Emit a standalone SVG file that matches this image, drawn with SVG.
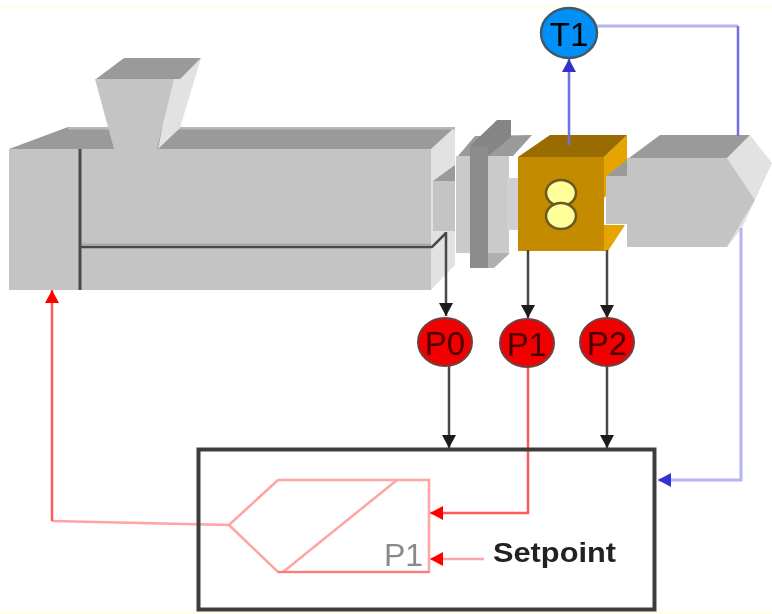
<svg xmlns="http://www.w3.org/2000/svg" width="772" height="614" viewBox="0 0 772 614">
<style>
.f{fill:#c4c4c4}.t{fill:#9a9a9a}.s{fill:#e2e2e2}.d{fill:#8c8c8c}
.k{fill:none;stroke:#4a4a4a;stroke-width:2.5}
.r{fill:none;stroke:#ff5a5a;stroke-width:2.5}
.rl{fill:none;stroke:#ffa4a4;stroke-width:2.5}
.b{fill:none;stroke:#7070e0;stroke-width:2.5}
.bl{fill:none;stroke:#b4b4f0;stroke-width:3}
text{font-family:"Liberation Sans",Arial,sans-serif}
.lab{font-size:33px;fill:#4a0000;text-anchor:middle}
</style>
<defs>
<filter id="soft" x="-2%" y="-2%" width="104%" height="104%"><feGaussianBlur stdDeviation="0.7"/></filter>
<marker id="ak" markerWidth="16" markerHeight="16" refX="13" refY="8" orient="auto" markerUnits="userSpaceOnUse"><path d="M0 1L13 8L0 15Z" fill="#1a1a1a"/></marker>
<marker id="ar" markerWidth="16" markerHeight="16" refX="13" refY="8" orient="auto" markerUnits="userSpaceOnUse"><path d="M0 1L13 8L0 15Z" fill="#ff0000"/></marker>
<marker id="ab" markerWidth="16" markerHeight="16" refX="13" refY="8" orient="auto" markerUnits="userSpaceOnUse"><path d="M0 1L13 8L0 15Z" fill="#3030cc"/></marker>
</defs>
<rect width="772" height="614" fill="#fff"/>
<rect x="0" y="6" width="772" height="2" fill="#ffffe6"/>
<rect x="0" y="611" width="772" height="3" fill="#ffffe6"/>
<g filter="url(#soft)">
<g id="extruder-barrel">
<polygon class="s" points="431,149 455,127 455,265 431,290"/>
<polygon class="t" points="9,149 68,127 455,127 431,149"/>
<rect x="68" y="127" width="387" height="2.500" fill="#b8b8b8"/>
<rect class="f" x="9" y="149" width="422" height="141"/>
<polygon class="t" points="433,181 455,165 455,181"/>
<rect class="f" x="433" y="181" width="22" height="50"/>
<path d="M80 149V290" stroke="#4a4a4a" stroke-width="3" fill="none"/>
<path d="M80 247H432L446 233" stroke="#4a4a4a" stroke-width="2.500" fill="none"/>
<rect x="82" y="243.500" width="349" height="2" fill="#a8a8a8"/>
</g>
<g id="hopper">
<polygon class="s" points="172,79 201,58 180,128 158,149"/>
<polygon class="t" points="96,79 124,58 201,58 180,79"/>
<polygon class="f" points="95,79 174,79 157,149 114,149"/>
</g>
<g id="flange">
<polygon class="t" points="458,156 475,136 532,135 513,156"/>
<rect x="456" y="156" width="53" height="97" fill="#cacaca"/>
<rect x="507" y="178" width="12" height="52" fill="#d0d0d0"/>
<polygon points="470,146 497,120 511,120 511,137 488,156 470,156" fill="#858585"/>
<rect class="d" x="470" y="146" width="18" height="122"/>
<polygon points="488,268 494,268 510,253 488,253" fill="#b0b0b0"/>
</g>
<g id="heater">
<polygon points="604,157 627,135 627,175 604,198" fill="#e6a400"/>
<polygon points="604,225 625,225 608,251 604,251" fill="#e6a400"/>
<polygon points="518,157 550,135 627,135 604,157" fill="#986c00"/>
<rect x="518" y="157" width="86" height="94" fill="#c48a00"/>
<polygon class="t" points="606,176 627,160 627,176"/>
<rect class="f" x="606" y="176" width="21" height="48"/>
<ellipse cx="561" cy="193" rx="15" ry="13" fill="#ffff99" stroke="#6a5a20" stroke-width="2.500"/>
<ellipse cx="561" cy="216" rx="15" ry="13" fill="#ffff99" stroke="#6a5a20" stroke-width="2.500"/>
</g>
<g id="nozzle">
<polygon class="s" points="727,158 750,135 772,163 742,228 727,247 755,200"/>
<polygon class="t" points="629,158 660,135 750,135 727,158"/>
<polygon class="f" points="627,158 727,158 755,200 727,247 627,247"/>
</g>
<g id="connectors">
<path class="b" d="M569 145V59" marker-end="url(#ab)"/>
<path class="bl" d="M595 26H738"/>
<path class="b" d="M738 26V136"/>
<path class="bl" d="M741 228V480H658" marker-end="url(#ab)"/>
<path class="k" d="M446 232V316" marker-end="url(#ak)"/>
<path class="k" d="M528 250V318" marker-end="url(#ak)"/>
<path class="k" d="M607 250V318" marker-end="url(#ak)"/>
<path class="k" d="M449 366V448" marker-end="url(#ak)"/>
<path class="k" d="M607 366V448" marker-end="url(#ak)"/>
<path class="r" d="M528 367V513H430" marker-end="url(#ar)"/>
<path class="rl" d="M484 559H430" stroke-width="3" marker-end="url(#ar)"/>
<path class="rl" d="M229 525L52 521" stroke-width="3"/>
<path class="r" d="M52 521V290" marker-end="url(#ar)"/>
</g>
<g id="T1">
<ellipse cx="569" cy="33" rx="28" ry="25" fill="#0090f8" stroke="#405868" stroke-width="2.500"/>
<text class="lab" x="569" y="46" style="fill:#000">T1</text>
</g>
<g id="P0">
<ellipse cx="445" cy="342" rx="27" ry="24" fill="#f00000" stroke="#704040" stroke-width="2"/>
<text class="lab" x="445" y="355">P0</text>
</g>
<g id="P1">
<ellipse cx="527" cy="343" rx="27" ry="24" fill="#f00000" stroke="#704040" stroke-width="2"/>
<text class="lab" x="527" y="356">P1</text>
</g>
<g id="P2">
<ellipse cx="607" cy="342" rx="27" ry="24" fill="#f00000" stroke="#704040" stroke-width="2"/>
<text class="lab" x="607" y="355">P2</text>
</g>
<g id="controller">
<rect x="198.500" y="449.500" width="456" height="160" fill="none" stroke="#3c3c3c" stroke-width="4"/>
<path class="rl" d="M229 525L278 480H429V572H278L229 525"/>
<path class="rl" d="M397 480L283 572"/>
<path d="M278 572H429" stroke="#ff7a7a" stroke-width="2" fill="none"/>
<text x="384" y="566" font-size="32" fill="#8a8a8a">P1</text>
<text x="493" y="562" font-size="27" font-weight="bold" fill="#202020" textLength="123" lengthAdjust="spacingAndGlyphs">Setpoint</text>
</g>
</g>
</svg>
